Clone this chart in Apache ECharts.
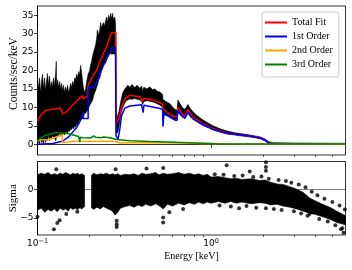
<!DOCTYPE html>
<html><head><meta charset="utf-8">
<script src="https://cdn.jsdelivr.net/npm/echarts@6/dist/echarts.min.js"></script>
<style>html,body{margin:0;padding:0;background:#fff}#c{width:352px;height:270px}</style>
</head><body><div id="c"></div>
<script>
// ---------- tick labels ----------
const energyMajorTicks = [0.1, 1];
const energyMinorTicks = [0.2,0.3,0.4,0.5,0.6,0.7,0.8,0.9,2,3,4,5];
const countTicks = [0,5,10,15,20,25,30,35];
const sigmaTicks = [-5, 0];

// ---------- observed spectrum (envelope of data + error bars) ----------
const dataE = [0.1,0.1014,0.1027,0.1041,0.1055,0.1069,0.1083,0.1098,0.1112,0.1127,
  0.1142,0.1158,0.1173,0.1189,0.1205,0.1221,0.1237,0.1254,0.1271,0.1283,
  0.1288,0.1305,0.1322,0.1340,0.1358,0.1376,0.1395,0.1413,0.1432,0.1451,
  0.1471,0.1491,0.1511,0.1531,0.1552,0.1573,0.1593,0.1615,0.1636,0.1658,
  0.1680,0.1703,0.1726,0.1749,0.1772,0.1796,0.1819,0.1844,0.1868,0.1893,
  0.1920,0.1958,0.1997,0.2023,0.2050,0.2078,0.2105,0.2133,0.2162,0.2190,
  0.2214,0.2253,0.2283,0.2313,0.2340,0.2374,0.2406,0.2437,0.2470,0.2503,
  0.2535,0.2570,0.2607,0.2640,0.2667,0.2703,0.2740,0.2787,0.2813,0.2824,
  0.2835,0.2873,0.2911,0.2951,0.3000,0.3047,0.3100,0.3184,0.3250,0.3313,
  0.3402,0.3500,0.3638,0.3750,0.3888,0.3977,0.4030,0.4101,0.4268,0.4442,
  0.4600,0.4748,0.4900,0.5075,0.5261,0.5282,0.5353,0.5546,0.5795,0.6031,
  0.6194,0.6365,0.6447,0.6621,0.6891,0.7077,0.7365,0.7565,0.7873,0.8300,
  0.8990,0.9609,1.0270,1.1275,1.2378,1.3765,1.4712,1.6806,1.9196,2.0516,
  2.1353,2.2431,3.0,4.4391,5.95];
const dataHi = [17.5,15,18,14,17,19,15,18,14.5,17,
  19.2,16,18.5,15,17,15.5,18,16,19,22.5,
  16,17.5,15.5,17,15,16.5,14.5,16,14,15.5,
  14.5,16,14,15,16.5,15.5,17,16,18,17.5,
  19,18,19.7,19,21.4,19.5,17,15,14,15,
  17,19,20,21.5,22.5,24,25,26,27,28.5,
  31,29.5,31,33,31.5,32.5,33,32,33.6,34.5,
  33,35,34,35.5,34,35.5,34,34.5,33,30,
  10,7,8,9,11,12.5,14,15,15.5,16,
  15.5,16.2,15.4,16,15.2,15.8,14.5,15.5,15,15.6,
  14.8,15,14.4,14.2,13.5,12,12,11.5,11,10,
  9.5,9.2,12,11,9.8,9.5,10.8,9.8,8.8,7.8,
  6.6,5.8,5.0,4.2,3.6,3.1,2.9,2.5,2.0,1.4,
  0.8,0.45,0.35,0.3,0.25];
const dataLo = [0,1,0,2,0.5,1,0,2,0.5,1.5,
  1,2.5,1,2,1.5,2.5,1.5,2,1,1.5,
  2.5,2,2.5,3,2.2,3,2.6,3,2.5,3,
  3.5,3,3.8,3.5,4.2,4,4.6,4.2,5,4.6,
  5.5,5,6,6.5,6.5,7,7,7.5,8.4,8.4,
  8.8,9.5,10.5,11,11.5,12,13,14,14.5,15.5,
  16,17.5,18,19,20,21,21.5,22,22,23,
  23.5,24,24.5,24.6,24.5,24.5,24.5,24.5,24,20,
  3,3,3.5,5,7,9,10,11.2,11.8,12,
  12.3,12.2,12.4,12.2,12,11.8,10.8,11.6,11.8,11.7,
  11.5,11.3,11,10.6,10,6.5,8,7.8,7.3,6.8,
  6.5,6.4,8.8,8,7.3,7,8.5,7.5,6.8,6.1,
  5.1,4.5,3.9,3.3,2.8,2.5,2.3,2.0,1.5,0.9,
  0.3,0.05,0,0,0];

// ---------- model components ----------
const totalE = [0.1,0.1041,0.1112,0.1271,0.1358,0.1389,0.1395,0.1451,0.1586,0.1696,
  0.1813,0.1831,0.1868,0.1937,0.1958,0.2070,0.2214,0.2283,0.2366,0.2493,
  0.2607,0.2667,0.2824,0.2835,0.2873,0.2951,0.3047,0.3184,0.3402,0.3888,
  0.4030,0.4101,0.4442,0.5075,0.5261,0.5282,0.5546,0.6031,0.6365,0.6447,
  0.6891,0.7077,0.7365,0.7873,0.8990,1.0270,1.2378,1.4712,1.8450,1.9750,
  2.0516,2.1353,2.2431,3.2690,4.4391];
const totalV = [6.3,7.8,9.2,9.6,9.9,10.0,8.3,8.6,10.5,11.9,
  13.2,12.3,12.8,13.0,16.0,18.3,20.5,22.5,24.0,26.4,
  29.0,30.2,30.3,5.7,5.5,7.0,10.0,12.4,13.3,12.9,
  11.6,12.4,12.2,11.3,10.8,9.7,8.8,7.6,7.4,10.0,
  8.0,7.7,9.4,7.4,5.6,4.3,3.0,2.5,2.0,1.7,
  1.1,0.5,0.25,0.15,0.1];
const order1E = [0.1,0.1221,0.1389,0.1511,0.1658,0.1726,0.1813,0.1831,0.1832,0.1958,
  0.1959,0.2133,0.2283,0.2493,0.2667,0.2813,0.2835,0.2911,0.2979,0.3047,
  0.3184,0.3402,0.3977,0.4063,0.4101,0.5075,0.5261,0.5282,0.5353,0.5795,
  0.6194,0.6365,0.6447,0.6891,0.7077,0.7365,0.7873,0.8990,1.0270,1.2378,
  1.4712,1.6806,1.9196,2.0516,2.1353,2.2431,4.4391];
const order1V = [0.0,0.2,0.8,2.0,4.2,5.5,7.4,8.7,7.0,7.0,
  15.5,15.5,19.0,23.2,26.0,26.3,2.3,1.5,4.0,7.7,
  9.8,10.4,10.7,8.6,10.6,9.7,9.5,4.8,8.4,7.4,
  6.6,6.5,9.3,7.4,7.1,8.8,6.9,5.3,4.1,2.9,
  2.6,2.2,1.7,1.1,0.45,0.2,0.15];
const order2E = [0.1,0.1041,0.1158,0.1322,0.1389,0.1395,0.1413,0.1491,0.1658,0.2406,
  0.2824,0.2873,0.2979,0.3402,0.5075,0.6621,0.8990,1.2378,2.0,5.95];
const order2V = [0.9,1.2,1.3,2.2,2.6,0.4,0.4,0.6,0.8,0.8,
  0.75,0.3,0.35,0.45,0.4,0.35,0.25,0.15,0.05,0.0];
const order3E = [0.1,0.1027,0.1098,0.1271,0.1451,0.1531,0.1726,0.1749,0.1755,0.1762,
  0.1819,0.2023,0.2105,0.2162,0.2313,0.2343,0.2406,0.2607,0.2861,0.3402,
  0.4442,0.5546,0.8990,1.1275,5.95];
const order3V = [1.1,1.5,2.3,3.2,3.0,2.8,2.1,1.9,0.6,1.9,
  1.8,1.7,2.3,1.9,1.8,2.2,2.0,1.8,1.3,0.95,
  0.75,0.6,0.3,0.1,0.05];

// ---------- residuals (sigma): dense band cores + individual points ----------
const res1E  = [0.1,0.105,0.11,0.115,0.12,0.125,0.13,0.135,0.14,0.145,0.15,0.155,0.16,0.165,0.17,0.175,0.18,0.1868];
const res1Lo = [-3.6,-3.3,-4.0,-3.5,-3.8,-3.4,-3.9,-3.3,-3.6,-3.4,-3.8,-3.2,-3.5,-3.3,-3.6,-3.2,-3.4,-3.0];
const res1Hi = [2.6,2.9,2.7,3.0,2.6,2.8,2.6,2.9,2.7,3.0,2.8,2.6,2.9,2.7,2.9,2.6,2.8,2.5];
const res2E  = [0.2045,0.21,0.22,0.23,0.24,0.25,0.26,0.27,0.28,0.29,0.30,0.32,0.34,0.36,0.38,0.40,0.42,0.45,0.48,0.50,
  0.53,0.56,0.60,0.65,0.70,0.75,0.80,0.85,0.90,0.95,1.0,1.1,1.2,1.3,1.4,1.5,1.7,1.9,2.05,2.2,
  2.4,2.6,2.85,3.1,3.4,3.7,4.0,4.4,4.9,5.3,5.95];
const res2Lo = [-3.2,-3.5,-3.1,-3.4,-3.0,-3.3,-3.5,-3.8,-4.5,-4.0,-3.3,-3.0,-2.8,-3.1,-2.7,-3.0,-2.6,-2.9,-2.5,-2.8,
  -3.4,-2.6,-2.9,-2.4,-2.7,-2.3,-2.6,-2.2,-2.5,-2.2,-2.4,-2.1,-2.4,-2.1,-2.4,-2.2,-2.5,-2.3,-2.4,-2.7,
  -2.6,-2.9,-3.1,-3.4,-3.8,-4.2,-4.4,-4.8,-5.3,-5.8,-6.2];
const res2Hi = [2.5,2.9,2.6,2.8,2.7,2.9,2.6,2.8,2.6,2.8,2.5,2.7,2.6,2.8,2.5,2.9,2.7,2.8,3.0,2.6,
  2.9,2.7,2.8,3.0,2.7,2.9,2.6,2.8,2.5,2.7,2.2,2.3,2.1,1.9,2.0,1.8,1.9,1.6,1.7,1.3,
  1.0,0.9,0.5,0.1,-0.5,-1.5,-2.0,-2.6,-3.2,-3.8,-4.6];
const residOutE = [0.1,0.1243,0.1283,0.130,0.134,0.1465,0.1696,0.282,0.286,0.286,0.286,0.425,0.53,0.53,0.53,0.575,0.69,
  1.05,1.12,1.18,1.23,1.3,1.36,1.45,1.52,1.6,1.67,1.75,1.82,1.95,2.07,2.07,2.07,2.07,2.15,2.3,2.45,2.55,2.7,
  2.9,3.0,3.2,3.3,3.5,3.6,3.69,3.8,4.1,4.2,4.5,4.7,5.0,5.2,5.3,5.5,5.6,5.7,5.8,5.9];
const residOutV = [-4.8,-7.0,3.6,-5.9,-5.4,-4.3,-3.9,3.6,-5.5,-6.1,-6.6,3.7,3.8,-4.9,-5.8,-4.0,-3.4,
  2.7,-2.8,2.6,4.3,-3.0,2.4,-3.3,2.5,-2.9,3.2,2.2,-3.2,2.3,4.8,4.0,3.3,-3.3,1.9,-3.4,1.7,-3.6,1.5,
  1.2,-3.8,0.9,-4.2,0.4,-4.6,-4.3,-0.4,-1.0,-5.2,-1.6,-5.6,-2.2,-6.3,-5.4,-2.8,-7.0,-6.8,-7.6,-3.5];

const xMin = 0.1, xMax = 5.95;
const SERIF = 'Liberation Serif';
const SANS = 'DejaVu Sans';

function pairs(E, V) { return E.map((e, i) => [e, V[i]]); }

function band(xi, yi, E, lo, hi, color) {
  return {
    type: 'custom', xAxisIndex: xi, yAxisIndex: yi, silent: true, clip: true, z: 1,
    data: E.map((e, i) => [e, lo[i], hi[i]]),
    encode: { x: 0, y: [1, 2] },
    renderItem: function (params, api) {
      if (params.dataIndex !== 0) return null;
      const top = E.map((e, i) => api.coord([e, hi[i]]));
      const bot = E.map((e, i) => api.coord([e, lo[i]])).reverse();
      return { type: 'polygon', shape: { points: top.concat(bot) }, style: { fill: color, stroke: color, lineWidth: 0.6 } };
    }
  };
}

function line(name, E, V, color, z) {
  return { name: name, type: 'line', xAxisIndex: 0, yAxisIndex: 0, data: pairs(E, V),
    symbol: 'none', z: z, lineStyle: { color: color, width: 1.5 }, itemStyle: { color: color } };
}

const axisLineStyle = { show: true, lineStyle: { color: '#000', width: 0.8 } };
const supFmt = v => '{b|10}{s|' + (Math.abs(v - 0.1) < 1e-9 ? '−1' : '0') + '}';

const chart = echarts.init(document.getElementById('c'), null, { renderer: 'canvas' });
chart.setOption({
  animation: false,
  backgroundColor: '#fff',
  grid: [
    { left: 37.5, top: 6, width: 308, height: 149, show: true, borderColor: '#000', borderWidth: 0.8,
      containLabel: false, outerBoundsMode: 'none' },
    { left: 37.5, top: 161.5, width: 308, height: 73.5, show: true, borderColor: '#000', borderWidth: 0.8,
      containLabel: false, outerBoundsMode: 'none' }
  ],
  xAxis: [
    { gridIndex: 0, type: 'log', logBase: 10, min: xMin, max: xMax, position: 'bottom',
      axisLine: axisLineStyle, splitLine: { show: false },
      axisTick: { show: true, inside: false, length: 3.5, customValues: energyMajorTicks, lineStyle: { color: '#000', width: 0.8 } },
      axisLabel: { show: false } },
    { gridIndex: 0, type: 'log', logBase: 10, min: xMin, max: xMax, position: 'bottom',
      axisLine: { show: false }, splitLine: { show: false },
      axisTick: { show: true, inside: false, length: 2, customValues: energyMinorTicks, lineStyle: { color: '#000', width: 0.6 } },
      axisLabel: { show: false } },
    { gridIndex: 1, type: 'log', logBase: 10, min: xMin, max: xMax, position: 'bottom',
      axisLine: axisLineStyle, splitLine: { show: false },
      axisTick: { show: true, inside: false, length: 3.5, customValues: energyMajorTicks, lineStyle: { color: '#000', width: 0.8 } },
      axisLabel: { show: true, margin: 3, customValues: energyMajorTicks, formatter: supFmt,
        rich: { b: { fontFamily: SANS, fontSize: 9, color: '#000', lineHeight: 11 },
                s: { fontFamily: SANS, fontSize: 6.5, color: '#000', verticalAlign: 'top', lineHeight: 8 } } },
      name: 'Energy [keV]', nameLocation: 'middle', nameGap: 16, nameMoveOverlap: false,
      nameTextStyle: { fontFamily: SERIF, fontSize: 10, color: '#000' } },
    { gridIndex: 1, type: 'log', logBase: 10, min: xMin, max: xMax, position: 'bottom',
      axisLine: { show: false }, splitLine: { show: false },
      axisTick: { show: true, inside: false, length: 2, customValues: energyMinorTicks, lineStyle: { color: '#000', width: 0.6 } },
      axisLabel: { show: false } }
  ],
  yAxis: [
    { gridIndex: 0, type: 'value', min: -2.9, max: 37.5,
      axisLine: axisLineStyle, splitLine: { show: false },
      axisTick: { show: true, inside: false, length: 3.5, customValues: countTicks, lineStyle: { color: '#000', width: 0.8 } },
      axisLabel: { show: true, margin: 4, customValues: countTicks, fontFamily: SANS, fontSize: 9, color: '#000' },
      name: 'Counts/sec/keV', nameLocation: 'middle', nameGap: 18, nameRotate: 90, nameMoveOverlap: false,
      nameTextStyle: { fontFamily: SERIF, fontSize: 11.5, color: '#000', padding: [0, 0, 0, 14] } },
    { gridIndex: 1, type: 'value', min: -8, max: 4.95,
      axisLine: axisLineStyle, splitLine: { show: false },
      axisTick: { show: true, inside: false, length: 3.5, customValues: sigmaTicks, lineStyle: { color: '#000', width: 0.8 } },
      axisLabel: { show: true, margin: 4, customValues: sigmaTicks, fontFamily: SANS, fontSize: 9, color: '#000',
        formatter: v => (v < 0 ? '−' + Math.abs(v) : String(v)) },
      name: 'Sigma', nameLocation: 'middle', nameGap: 19, nameRotate: 90, nameMoveOverlap: false,
      nameTextStyle: { fontFamily: SERIF, fontSize: 11, color: '#000' } }
  ],
  legend: {
    data: ['Total Fit', '1st Order', '2nd Order', '3rd Order'],
    icon: 'rect',
    orient: 'vertical', left: 262, top: 12, itemWidth: 22, itemHeight: 2, itemGap: 3,
    padding: [5, 6, 7, 3], backgroundColor: '#fff', borderColor: '#cccccc', borderWidth: 1, borderRadius: 2,
    textStyle: { fontFamily: SERIF, fontSize: 10, color: '#000', lineHeight: 11 }
  },
  series: [
    band(0, 0, dataE, dataLo, dataHi, '#000'),
    line('Total Fit', totalE, totalV, '#ff0000', 2),
    line('1st Order', order1E, order1V, '#0000ff', 3),
    line('2nd Order', order2E, order2V, '#ffa500', 4),
    line('3rd Order', order3E, order3V, '#008000', 5),
    { type: 'line', xAxisIndex: 2, yAxisIndex: 1, data: [[xMin, 0], [xMax, 0]], symbol: 'none', silent: true, z: 0,
      lineStyle: { color: '#888888', width: 1 } },
    band(2, 1, res1E, res1Lo, res1Hi, '#000'),
    band(2, 1, res2E, res2Lo, res2Hi, '#000'),
    { type: 'scatter', xAxisIndex: 2, yAxisIndex: 1, data: pairs(residOutE, residOutV), symbol: 'circle', symbolSize: 4,
      itemStyle: { color: '#000' }, silent: true, z: 2 }
  ]
});
</script>
</body></html>
